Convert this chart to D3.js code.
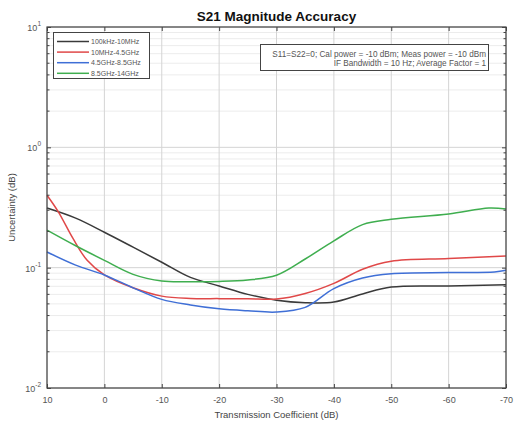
<!DOCTYPE html>
<html>
<head>
<meta charset="utf-8">
<script src="https://cdn.jsdelivr.net/npm/d3@7"></script>
<style>
  html, body { margin: 0; padding: 0; background: #fff; }
  svg { display: block; font-family: "Liberation Sans", Arial, sans-serif; }
</style>
</head>
<body>
<svg id="chart" width="516" height="425"></svg>
<script>
// ---- data ----
const xTicks = [10, 0, -10, -20, -30, -40, -50, -60, -70];
const yTickExps = [-2, -1, 0, 1];
const seriesNames = ["100kHz-10MHz", "10MHz-4.5GHz", "4.5GHz-8.5GHz", "8.5GHz-14GHz"];
const seriesColors = ["#3a3a3a", "#e04848", "#3f6fd6", "#3fae4f"];

const xBlack = [10, 5, 0, -5, -10, -15, -20, -25, -30, -35, -40, -45, -50, -60, -70];
const yBlack = [0.313, 0.258, 0.197, 0.148, 0.111, 0.083, 0.0705, 0.060, 0.0537, 0.0512, 0.0518, 0.0605, 0.069, 0.0705, 0.0722];

const xRed = [10, 8, 5.5, 3, 0, -5, -10, -15, -20, -25, -30, -35, -40, -45, -50, -60, -70];
const yRed = [0.40, 0.29, 0.176, 0.115, 0.087, 0.068, 0.058, 0.0555, 0.0553, 0.0552, 0.0548, 0.061, 0.074, 0.097, 0.113, 0.119, 0.125];

const xBlue = [10, 5, 0, -5, -10, -15, -20, -25, -30, -35, -40, -45, -50, -60, -68, -70];
const yBlue = [0.135, 0.105, 0.087, 0.068, 0.0545, 0.049, 0.0455, 0.0438, 0.0428, 0.0468, 0.067, 0.082, 0.089, 0.091, 0.092, 0.095];

const xGreen = [10, 5, 0, -5, -10, -15, -20, -25, -30, -35, -40, -45, -50, -60, -67, -70];
const yGreen = [0.205, 0.152, 0.115, 0.088, 0.0775, 0.0765, 0.0768, 0.079, 0.0865, 0.118, 0.167, 0.228, 0.252, 0.279, 0.313, 0.307];

const noteLines = ["S11=S22=0;  Cal power = -10 dBm;  Meas power = -10 dBm",
                   "IF Bandwidth = 10 Hz;  Average Factor = 1"];

// ---- layout ----
const svg = d3.select("#chart");
const L = 47, R = 506, T = 27, B = 388;

const x = d3.scaleLinear().domain([10, -70]).range([L, R]);
const y = d3.scaleLog().domain([0.01, 10]).range([B, T]);

svg.append("rect").attr("x", L).attr("y", T).attr("width", R - L).attr("height", B - T).attr("fill", "#fff");

// minor horizontal grid
const minorY = [];
yTickExps.slice(0, -1).forEach(e => { for (let k = 2; k <= 9; k++) minorY.push(k * Math.pow(10, e)); });
svg.append("g").selectAll("line").data(minorY).join("line")
  .attr("x1", L).attr("x2", R).attr("y1", d => y(d)).attr("y2", d => y(d))
  .attr("stroke", "#ececec").attr("stroke-width", 1);

// major grids
svg.append("g").selectAll("line").data(yTickExps.map(e => Math.pow(10, e))).join("line")
  .attr("x1", L).attr("x2", R).attr("y1", d => y(d)).attr("y2", d => y(d))
  .attr("stroke", "#d4d4d4").attr("stroke-width", 1);
svg.append("g").selectAll("line").data(xTicks).join("line")
  .attr("x1", d => x(d)).attr("x2", d => x(d)).attr("y1", T).attr("y2", B)
  .attr("stroke", "#d4d4d4").attr("stroke-width", 1);

// series
const series = [
  {xs: xBlack, ys: yBlack}, {xs: xRed, ys: yRed}, {xs: xBlue, ys: yBlue}, {xs: xGreen, ys: yGreen}
];
const line = d3.line().x(d => x(d[0])).y(d => y(d[1])).curve(d3.curveCatmullRom.alpha(0.5));
series.forEach((s, i) => {
  const pts = s.xs.map((v, j) => [v, s.ys[j]]).sort((a, b) => x(a[0]) - x(b[0]));
  svg.append("path").datum(pts).attr("d", line)
    .attr("fill", "none").attr("stroke", seriesColors[i]).attr("stroke-width", 1.5)
    .attr("stroke-linejoin", "round");
});

// axes box
svg.append("rect").attr("x", L).attr("y", T).attr("width", R - L).attr("height", B - T)
  .attr("fill", "none").attr("stroke", "#444").attr("stroke-width", 1.2);

// bottom axis
const xAxis = d3.axisBottom(x).tickValues(xTicks).tickSize(-4).tickPadding(9).tickFormat(d3.format("d"));
const gx = svg.append("g").attr("transform", `translate(0,${B})`).call(xAxis);
gx.select(".domain").remove();
gx.selectAll(".tick line").attr("stroke", "#444");
gx.selectAll("text").attr("font-size", 9).attr("fill", "#555")
  .text(d => d < 0 ? "-" + Math.abs(d) : d);
const xAxisTop = d3.axisTop(x).tickValues(xTicks).tickSize(-4).tickFormat("");
const gxt = svg.append("g").attr("transform", `translate(0,${T})`).call(xAxisTop);
gxt.select(".domain").remove();
gxt.selectAll(".tick line").attr("stroke", "#444");

// left/right axes
const yAxis = d3.axisLeft(y).tickValues(yTickExps.map(e => Math.pow(10, e))).tickSize(-4).tickFormat("");
const gy = svg.append("g").attr("transform", `translate(${L},0)`).call(yAxis);
gy.select(".domain").remove();
gy.selectAll(".tick line").attr("stroke", "#444");
const yAxisR = d3.axisRight(y).tickValues(yTickExps.map(e => Math.pow(10, e))).tickSize(-4).tickFormat("");
const gyr = svg.append("g").attr("transform", `translate(${R},0)`).call(yAxisR);
gyr.select(".domain").remove();
gyr.selectAll(".tick line").attr("stroke", "#444");
[[L, 1], [R, -1]].forEach(([xx, dir]) => {
  svg.append("g").selectAll("line").data(minorY).join("line")
    .attr("x1", xx).attr("x2", xx + dir * 2.5).attr("y1", d => y(d)).attr("y2", d => y(d))
    .attr("stroke", "#444").attr("stroke-width", 1);
});

// y tick labels 10^n
const yl = svg.append("g");
yTickExps.forEach(e => {
  const t = yl.append("text").attr("x", L - 6).attr("y", y(Math.pow(10, e)) + 4)
    .attr("text-anchor", "end").attr("font-size", 9).attr("fill", "#555");
  t.append("tspan").text("10");
  t.append("tspan").attr("dy", -5).attr("font-size", 6.5).text(String(e));
});

// labels
svg.append("text").attr("x", (L + R) / 2).attr("y", 21).attr("text-anchor", "middle")
  .attr("font-size", 13.5).attr("font-weight", "bold").attr("fill", "#111").text("S21 Magnitude Accuracy");
svg.append("text").attr("x", (L + R) / 2).attr("y", 418).attr("text-anchor", "middle")
  .attr("font-size", 9.5).attr("fill", "#444").text("Transmission Coefficient (dB)");
svg.append("text").attr("transform", `translate(15,${(T + B) / 2}) rotate(-90)`).attr("text-anchor", "middle")
  .attr("font-size", 9.5).attr("fill", "#444").text("Uncertainty (dB)");

// legend
const lg = svg.append("g");
lg.append("rect").attr("x", 53.5).attr("y", 32.5).attr("width", 96).attr("height", 46)
  .attr("fill", "#fff").attr("stroke", "#444").attr("stroke-width", 1);
seriesNames.forEach((n, i) => {
  const yy = 41.5 + i * 10.6;
  lg.append("line").attr("x1", 57).attr("x2", 89).attr("y1", yy).attr("y2", yy)
    .attr("stroke", seriesColors[i]).attr("stroke-width", 1.5);
  lg.append("text").attr("x", 91).attr("y", yy + 2.4).attr("font-size", 7).attr("fill", "#555").text(n);
});

// annotation box
const ag = svg.append("g");
ag.append("rect").attr("x", 260.5).attr("y", 44.5).attr("width", 228).attr("height", 26)
  .attr("fill", "#fff").attr("stroke", "#444").attr("stroke-width", 1);
noteLines.forEach((s, i) => {
  ag.append("text").attr("x", 486).attr("y", 56.5 + i * 9.8).attr("text-anchor", "end")
    .attr("font-size", 8.2).attr("fill", "#555").text(s);
});
</script>
</body>
</html>
